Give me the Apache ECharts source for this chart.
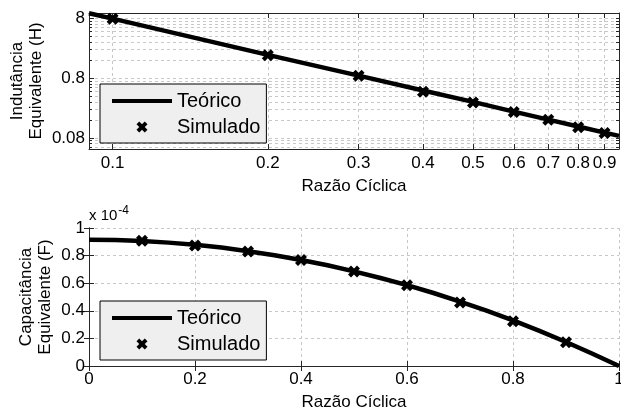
<!DOCTYPE html>
<html>
<head>
<meta charset="utf-8">
<script src="https://cdn.jsdelivr.net/npm/echarts@6/dist/echarts.min.js"></script>
<style>
  html, body { margin: 0; padding: 0; background: #fff; }
  #chart { width: 621px; height: 413px; }
</style>
</head>
<body>
<div id="chart"></div>
<script>
// ---- dados do gráfico superior (log-log) ----
const topX = [0.09, 0.1, 0.2, 0.3, 0.4, 0.5, 0.6, 0.7, 0.8, 0.9, 0.96];
const topTeorico = [12.2, 9.9, 2.45, 1.1, 0.62, 0.4, 0.275, 0.202, 0.155, 0.122, 0.108];
const simX = [0.1, 0.2, 0.3, 0.4, 0.5, 0.6, 0.7, 0.8, 0.9];
const topSimulado = [9.9, 2.42, 1.1, 0.59, 0.39, 0.27, 0.2, 0.15, 0.121];
const topXTicks = [0.1, 0.2, 0.3, 0.4, 0.5, 0.6, 0.7, 0.8, 0.9];
const topYTicks = [0.1, 1, 10];
const topYTickLabels = ['0.08', '0.8', '8'];
const topYMinor = [0.07, 0.08, 0.09, 0.1, 0.2, 0.3, 0.4, 0.5, 0.6, 0.7, 0.8, 0.9, 1,
                   2, 3, 4, 5, 6, 7, 8, 9, 10];

// ---- dados do gráfico inferior (x 10^-4) ----
const botX = [0, 0.05, 0.1, 0.15, 0.2, 0.25, 0.3, 0.35, 0.4, 0.45, 0.5,
              0.55, 0.6, 0.65, 0.7, 0.75, 0.8, 0.85, 0.9, 0.95, 1];
const botTeorico = [0.915, 0.913, 0.906, 0.894, 0.878, 0.858, 0.832, 0.803, 0.768, 0.730, 0.686,
                    0.638, 0.586, 0.529, 0.467, 0.401, 0.330, 0.254, 0.174, 0.089, 0];
const botSimulado = [0.907, 0.873, 0.83, 0.769, 0.684, 0.585, 0.461, 0.325, 0.173];

const FONT = "'Liberation Sans', Arial, sans-serif";
const X_MARK = 'path://M0,2.5L2.5,0L5,2.5L7.5,0L10,2.5L7.5,5L10,7.5L7.5,10L5,7.5L2.5,10L0,7.5L2.5,5Z';
const LINE_ICON = 'path://M0,0L60,0L60,4L0,4Z';
const gridLine = { show: true, lineStyle: { color: '#c8c8c8', type: [3, 3], width: 1 } };
const axisLine = { show: true, lineStyle: { color: '#262626', width: 1 } };

function pairs(xs, ys) {
    return xs.map((x, i) => [x, ys[i]]);
}

function legendBox(top) {
    return {
        left: 100, top: top, orient: 'vertical',
        data: [{ name: 'Teórico', icon: LINE_ICON }, { name: 'Simulado', icon: X_MARK }],
        backgroundColor: '#efefef', borderColor: '#000', borderWidth: 1, borderRadius: 0,
        padding: [6, 6, 5, 12], itemGap: 4, itemWidth: 60, itemHeight: 11,
        textStyle: { fontSize: 20, fontFamily: FONT, color: '#000', lineHeight: 22 },
    };
}

const chart = echarts.init(document.getElementById('chart'));

const option = {
    animation: false,
    textStyle: { fontFamily: FONT, color: '#000' },
    grid: [
        { left: 89, top: 13, width: 530, height: 136, containLabel: false, outerBoundsMode: 'none' },
        { left: 89, top: 228, width: 530, height: 138, containLabel: false, outerBoundsMode: 'none' },
    ],
    legend: [legendBox(84), legendBox(301)],
    xAxis: [
        {
            gridIndex: 0, type: 'log', min: 0.09, max: 0.96, position: 'bottom',
            name: 'Razão Cíclica', nameLocation: 'middle', nameGap: 29, nameMoveOverlap: false,
            nameTextStyle: { fontSize: 17, color: '#000' },
            axisLine: axisLine,
            axisTick: { inside: true, length: 5, customValues: topXTicks, lineStyle: { color: '#262626' } },
            axisLabel: { customValues: topXTicks, fontSize: 17, color: '#000', margin: 6,
                         formatter: v => String(v) },
            splitLine: gridLine, minorTick: { show: false },
        },
        {
            gridIndex: 0, type: 'log', min: 0.09, max: 0.96, position: 'top',
            axisLine: axisLine,
            axisTick: { inside: true, length: 5, customValues: topXTicks, lineStyle: { color: '#262626' } },
            axisLabel: { show: false }, splitLine: { show: false },
        },
        {
            gridIndex: 1, type: 'value', min: 0, max: 1, interval: 0.2, position: 'bottom',
            name: 'Razão Cíclica', nameLocation: 'middle', nameGap: 28, nameMoveOverlap: false,
            nameTextStyle: { fontSize: 17, color: '#000' },
            axisLine: axisLine,
            axisTick: { inside: true, length: 5, lineStyle: { color: '#262626' } },
            axisLabel: { fontSize: 17, color: '#000', margin: 5 },
            splitLine: gridLine,
        },
        {
            gridIndex: 1, type: 'value', min: 0, max: 1, interval: 0.2, position: 'top',
            axisLine: axisLine,
            axisTick: { inside: true, length: 5, lineStyle: { color: '#262626' } },
            axisLabel: { show: false }, splitLine: { show: false },
        },
    ],
    yAxis: [
        {
            gridIndex: 0, type: 'log', min: 0.065, max: 12.3, position: 'left',
            name: 'Indutância\nEquivalente (H)', nameLocation: 'middle', nameGap: 43, nameMoveOverlap: false,
            nameTextStyle: { fontSize: 17, color: '#000', lineHeight: 19 },
            axisLine: axisLine,
            axisTick: { inside: true, length: 5, customValues: topYTicks, lineStyle: { color: '#262626' } },
            axisLabel: { customValues: topYTicks, fontSize: 17, color: '#000', margin: 4,
                         formatter: v => topYTickLabels[topYTicks.indexOf(v)] || '' },
            splitLine: { show: false },
        },
        {
            gridIndex: 0, type: 'log', min: 0.065, max: 12.3, position: 'right',
            axisLine: axisLine,
            axisTick: { inside: true, length: 3, customValues: topYMinor, lineStyle: { color: '#262626' } },
            axisLabel: { show: false },
            splitLine: gridLine,
        },
        {
            gridIndex: 0, type: 'log', min: 0.065, max: 12.3, position: 'left', offset: 0,
            axisLine: { show: false },
            axisTick: { inside: true, length: 3, customValues: topYMinor, lineStyle: { color: '#262626' } },
            axisLabel: { show: false }, splitLine: { show: false },
        },
        {
            gridIndex: 1, type: 'value', min: 0, max: 1, interval: 0.2, position: 'left',
            name: 'Capacitância\nEquivalente (F)', nameLocation: 'middle', nameGap: 34, nameMoveOverlap: false,
            nameTextStyle: { fontSize: 17, color: '#000', lineHeight: 19 },
            axisLine: axisLine,
            axisTick: { inside: true, length: 5, lineStyle: { color: '#262626' } },
            axisLabel: { fontSize: 17, color: '#000', margin: 4 },
            splitLine: gridLine,
        },
        {
            gridIndex: 1, type: 'value', min: 0, max: 1, interval: 0.2, position: 'right',
            axisLine: axisLine,
            axisTick: { inside: true, length: 5, lineStyle: { color: '#262626' } },
            axisLabel: { show: false }, splitLine: { show: false },
        },
    ],
    graphic: [
        {
            type: 'text', left: 89, top: 205,
            style: {
                text: '{a|x 10}{b|-4}',
                rich: {
                    a: { fontSize: 15, fontFamily: FONT, fill: '#000' },
                    b: { fontSize: 12, fontFamily: FONT, fill: '#000', padding: [0, 0, 10, 1] },
                },
            },
        },
    ],
    series: [
        {
            name: 'Teórico', type: 'line', xAxisIndex: 0, yAxisIndex: 0,
            data: pairs(topX, topTeorico), symbol: 'none',
            lineStyle: { color: '#000', width: 4.5 }, itemStyle: { color: '#000' }, z: 3,
        },
        {
            name: 'Simulado', type: 'scatter', xAxisIndex: 0, yAxisIndex: 0,
            data: pairs(simX, topSimulado), symbol: X_MARK, symbolSize: 12,
            itemStyle: { color: '#000', opacity: 1 }, z: 4,
        },
        {
            name: 'Teórico', type: 'line', xAxisIndex: 2, yAxisIndex: 3,
            data: pairs(botX, botTeorico), symbol: 'none',
            lineStyle: { color: '#000', width: 4.5 }, itemStyle: { color: '#000' }, z: 3,
        },
        {
            name: 'Simulado', type: 'scatter', xAxisIndex: 2, yAxisIndex: 3,
            data: pairs(simX, botSimulado), symbol: X_MARK, symbolSize: 12,
            itemStyle: { color: '#000', opacity: 1 }, z: 4,
        },
    ],
};

chart.setOption(option);

window.addEventListener('resize', function () {
    chart.resize();
});
</script>
</body>
</html>
